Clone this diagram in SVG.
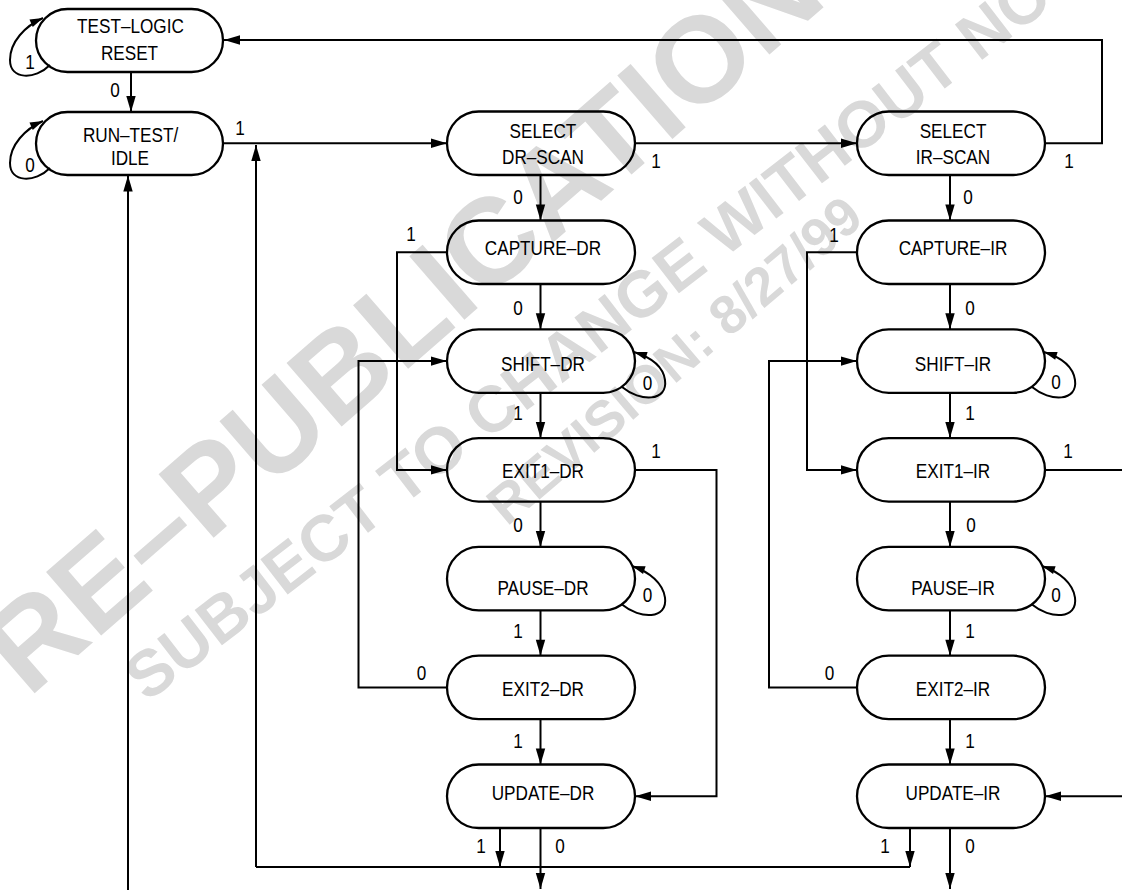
<svg xmlns="http://www.w3.org/2000/svg" width="1122" height="890" viewBox="0 0 1122 890">
<style>
.bg{fill:#ffffff}
.wm{fill:#d9d9d9;font-family:"Liberation Sans",Arial,sans-serif;font-weight:bold}
.node rect{fill:none;stroke:#000;stroke-width:2.3}
.t{font-family:"Liberation Sans",Arial,sans-serif;font-size:19.5px;fill:#000;text-anchor:middle;transform-box:fill-box;transform-origin:center;transform:scaleX(0.88)}
.c path{fill:none;stroke:#000;stroke-width:2}
.arr{marker-end:url(#ah)}
.loop{marker-end:url(#ahs)}
</style>
<defs>
<marker id="ah" markerUnits="userSpaceOnUse" markerWidth="17" markerHeight="11" refX="16" refY="5" orient="auto" overflow="visible"><path d="M0,0.3 L16,5 L0,9.7 z" fill="#000"/></marker>
<marker id="ahs" markerUnits="userSpaceOnUse" markerWidth="14" markerHeight="9" refX="13" refY="4" orient="auto" overflow="visible"><path d="M0,0 L13,4 L0,8 z" fill="#000"/></marker>
</defs>
<rect class="bg" x="0" y="0" width="1122" height="890"/>
<g id="watermark">
<text class="wm" x="-33" y="752" font-size="122" transform="rotate(-41 -33 752)">PRE–PUBLICATION</text>
<text class="wm" x="147" y="703" font-size="65" transform="rotate(-37.6 147 703)">SUBJECT TO CHANGE WITHOUT NOTICE</text>
<text class="wm" x="507" y="527" font-size="54" transform="rotate(-40.4 507 527)">REVISION: 8/27/99</text>
</g>
<g id="connectors" class="c">
<path class="loop" d="M50,65 C35,80 10,80 10,60 C10,42 25,26 43,18"/>
<path class="loop" d="M50,168 C35,183 10,183 10,163 C10,145 25,129 43,121"/>
<path class="arr" d="M131,72 V112"/>
<path class="arr" d="M223,143.3 H447"/>
<path class="arr" d="M635,143.3 H857"/>
<path class="arr" d="M1045,143.3 H1102 V40 H224"/>
<path class="arr" d="M128,890 V175.5"/>
<path class="arr" d="M910,829 V867"/>
<path d="M910,867 H256"/>
<path class="arr" d="M256,867 V145"/>
<path class="arr" d="M500,829 V867"/>
<path class="arr" d="M540.5,828 V889"/>
<path class="arr" d="M950,828 V889"/>
<path class="arr" d="M540.5,175.5 V220.5"/>
<path class="arr" d="M540.5,284 V329.3"/>
<path class="arr" d="M540.5,392.8 V438.1"/>
<path class="arr" d="M540.5,501.6 V546.9"/>
<path class="arr" d="M540.5,610.4 V655.7"/>
<path class="arr" d="M540.5,719.2 V764.5"/>
<path class="arr" d="M950,175.5 V220.5"/>
<path class="arr" d="M950,284 V329.3"/>
<path class="arr" d="M950,392.8 V438.1"/>
<path class="arr" d="M950,501.6 V546.9"/>
<path class="arr" d="M950,610.4 V655.7"/>
<path class="arr" d="M950,719.2 V764.5"/>
<path class="arr" d="M447,252.3 H397 V469.9 H447"/>
<path class="arr" d="M447,687.5 H358.5 V361.1 H447"/>
<path class="arr" d="M857,252.3 H807 V469.9 H857"/>
<path class="arr" d="M857,687.5 H769 V361.1 H857"/>
<path class="arr" d="M635,469.9 H716.5 V796.3 H635"/>
<path d="M1045,469.9 H1122"/>
<path class="arr" d="M1122,796.3 H1045"/>
<path class="loop" d="M622,387 C640,402 668,402 665,380 C663,366 650,357 634,352"/>
<path class="loop" d="M622,604.6 C640,619.6 668,619.6 665,597.6 C663,583.6 650,572 632,566"/>
<path class="loop" d="M1032,387 C1050,402 1078,402 1075,380 C1073,366 1060,357 1044,352"/>
<path class="loop" d="M1032,604.6 C1050,619.6 1078,619.6 1075,597.6 C1073,583.6 1060,572 1042,566"/>
</g>
<g id="labels">
<text class="t" x="30" y="69">1</text>
<text class="t" x="30" y="172">0</text>
<text class="t" x="115" y="97">0</text>
<text class="t" x="240" y="135">1</text>
<text class="t" x="656" y="168">1</text>
<text class="t" x="1069" y="168">1</text>
<text class="t" x="518" y="204">0</text>
<text class="t" x="968" y="204">0</text>
<text class="t" x="411" y="241">1</text>
<text class="t" x="834" y="242">1</text>
<text class="t" x="518" y="315">0</text>
<text class="t" x="970" y="315">0</text>
<text class="t" x="647.5" y="390">0</text>
<text class="t" x="1056" y="389">0</text>
<text class="t" x="518" y="420">1</text>
<text class="t" x="970" y="420">1</text>
<text class="t" x="656" y="458">1</text>
<text class="t" x="1068" y="458">1</text>
<text class="t" x="518" y="532">0</text>
<text class="t" x="971" y="532">0</text>
<text class="t" x="647.5" y="602">0</text>
<text class="t" x="1056" y="602">0</text>
<text class="t" x="518" y="638">1</text>
<text class="t" x="970" y="638">1</text>
<text class="t" x="421.5" y="680">0</text>
<text class="t" x="829.5" y="680">0</text>
<text class="t" x="518" y="748">1</text>
<text class="t" x="970" y="748">1</text>
<text class="t" x="481" y="853">1</text>
<text class="t" x="560" y="853">0</text>
<text class="t" x="885" y="853">1</text>
<text class="t" x="970" y="853">0</text>
</g>
<g id="test-logic-reset" class="node"><rect x="36" y="9" width="187" height="63" rx="31.5"/><text class="t" x="130.5" y="33.5">TEST–LOGIC</text><text class="t" x="129.5" y="60.5">RESET</text></g>
<g id="run-test-idle" class="node"><rect x="36" y="112" width="187" height="63" rx="31.5"/><text class="t" x="130.5" y="141.7">RUN–TEST/</text><text class="t" x="130" y="165">IDLE</text></g>
<g id="select-dr-scan" class="node"><rect x="447" y="111.5" width="188" height="63.5" rx="31.75"/><text class="t" x="543" y="137.7">SELECT</text><text class="t" x="543" y="164.3">DR–SCAN</text></g>
<g id="select-ir-scan" class="node"><rect x="857" y="111.5" width="188" height="63.5" rx="31.75"/><text class="t" x="953" y="137.7">SELECT</text><text class="t" x="953" y="164.3">IR–SCAN</text></g>
<g id="capture-dr" class="node"><rect x="447" y="220.5" width="188" height="63.5" rx="31.75"/><text class="t" x="543" y="255">CAPTURE–DR</text></g>
<g id="shift-dr" class="node"><rect x="447" y="329.3" width="188" height="63.5" rx="31.75"/><text class="t" x="543" y="371.5">SHIFT–DR</text></g>
<g id="exit1-dr" class="node"><rect x="447" y="438.1" width="188" height="63.5" rx="31.75"/><text class="t" x="543" y="478">EXIT1–DR</text></g>
<g id="pause-dr" class="node"><rect x="447" y="546.9" width="188" height="63.5" rx="31.75"/><text class="t" x="543" y="595">PAUSE–DR</text></g>
<g id="exit2-dr" class="node"><rect x="447" y="655.7" width="188" height="63.5" rx="31.75"/><text class="t" x="543" y="696.5">EXIT2–DR</text></g>
<g id="update-dr" class="node"><rect x="447" y="764.5" width="188" height="63.5" rx="31.75"/><text class="t" x="543" y="800">UPDATE–DR</text></g>
<g id="capture-ir" class="node"><rect x="857" y="220.5" width="188" height="63.5" rx="31.75"/><text class="t" x="953" y="255.5">CAPTURE–IR</text></g>
<g id="shift-ir" class="node"><rect x="857" y="329.3" width="188" height="63.5" rx="31.75"/><text class="t" x="953" y="371.5">SHIFT–IR</text></g>
<g id="exit1-ir" class="node"><rect x="857" y="438.1" width="188" height="63.5" rx="31.75"/><text class="t" x="953" y="478">EXIT1–IR</text></g>
<g id="pause-ir" class="node"><rect x="857" y="546.9" width="188" height="63.5" rx="31.75"/><text class="t" x="953" y="595">PAUSE–IR</text></g>
<g id="exit2-ir" class="node"><rect x="857" y="655.7" width="188" height="63.5" rx="31.75"/><text class="t" x="953" y="696.5">EXIT2–IR</text></g>
<g id="update-ir" class="node"><rect x="857" y="764.5" width="188" height="63.5" rx="31.75"/><text class="t" x="953" y="800">UPDATE–IR</text></g>
</svg>
